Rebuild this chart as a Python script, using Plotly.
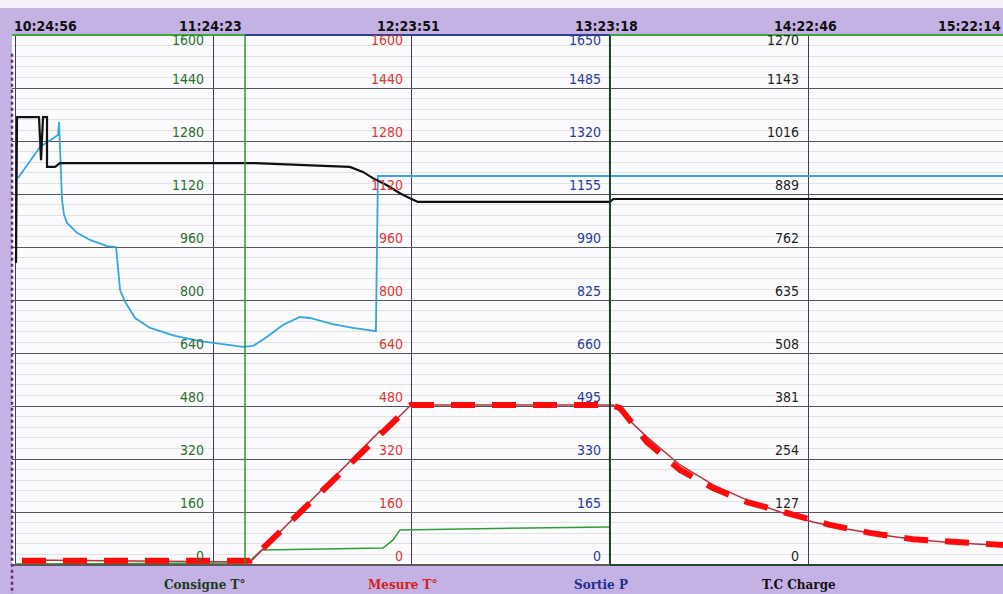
import plotly.graph_objects as go

# chart-recorder printout, 10:24:56 -> 15:22:14
# x values are minutes after the first time stamp

time_labels = ["10:24:56", "11:24:23", "12:23:51", "13:23:18", "14:22:46", "15:22:14"]

# scales printed inside the chart, one column per channel
consigne_ticks = [0, 160, 320, 480, 640, 800, 960, 1120, 1280, 1440, 1600]
mesure_ticks = [0, 160, 320, 480, 640, 800, 960, 1120, 1280, 1440, 1600]
sortie_ticks = [0, 165, 330, 495, 660, 825, 990, 1155, 1320, 1485, 1650]
charge_ticks = [0, 127, 254, 381, 508, 635, 762, 889, 1016, 1143, 1270]

channel_names = ["Consigne T°", "Mesure T°", "Sortie P", "T.C Charge"]

# Consigne T° (green)
consigne_t = [0.0, 69.6, 74.0, 110.3, 113.3, 115.4, 178.4]
consigne_v = [3, 6, 45, 51, 75, 106, 115]

# Mesure T° (red)
mesure_t = [2.1, 70.5, 108.2, 109.4, 110.3, 118.7, 178.4, 179.3, 189.5, 199.4, 209.3,
            219.5, 229.3, 239.2, 249.4, 259.3, 269.2, 279.4, 289.3, 296.2]
mesure_v = [15, 9, 392, 405, 400, 483, 483, 483, 386, 302, 242,
            196, 160, 130, 109, 91, 78, 69, 63, 60]

# red dashed profile drawn over the printout
profil_t = [2.1, 70.5, 118.7, 178.4, 181.4, 189.5, 199.4, 209.3, 219.5, 231.5,
            244.3, 256.3, 269.2, 292.3, 296.2]
profil_v = [13, 13, 483, 483, 474, 371, 287, 232, 190, 157,
            121, 97, 78, 63, 60]

# Sortie P (light blue)
sortie_t = [0.9, 7.5, 12.9, 13.2, 14.1, 14.7, 15.6, 18.6, 22.5, 27.6, 30.3, 30.9, 31.5,
            33.0, 36.0, 40.5, 48.0, 55.5, 68.4, 71.4, 75.5, 80.3, 85.4, 88.4, 95.3,
            101.3, 108.2, 108.8, 296.2]
sortie_v = [1205, 1301, 1339, 1379, 1136, 1090, 1065, 1034, 1012, 993, 990, 918, 856,
            819, 769, 738, 713, 697, 679, 682, 710, 747, 772, 769, 750,
            738, 728, 1211, 1211]

# T.C Charge (black)
charge_t = [0.3, 0.6, 7.2, 7.8, 8.4, 9.6, 9.6, 12.0, 13.5, 72.0, 94.4, 100.4, 104.3,
            107.3, 111.5, 115.4, 118.4, 120.8, 178.4, 179.3, 296.2]
charge_v = [724, 1073, 1073, 970, 1073, 1073, 954, 954, 963, 963, 956, 954, 942,
            927, 910, 891, 879, 870, 870, 877, 877]


def to_min(s):
    h, m, sec = [int(p) for p in s.split(':')]
    return h * 60 + m + sec / 60.0

t0 = to_min(time_labels[0])
grid_x = [to_min(s) - t0 for s in time_labels]
x_range = [-0.9, 296.2]

narrow = "Liberation Sans Narrow, DejaVu Sans Condensed, Arial Narrow, sans-serif"
green = '#2e6e2e'
red = '#e03535'
blue = '#2b3a9a'
black = '#1e1e1e'

fig = go.Figure()

fig.add_trace(go.Scatter(x=consigne_t, y=consigne_v, name=channel_names[0], mode='lines',
                         line=dict(color='#2f9e3a', width=1.5), yaxis='y'))
fig.add_trace(go.Scatter(x=sortie_t, y=sortie_v, name=channel_names[2], mode='lines',
                         line=dict(color='#35a6df', width=1.8), yaxis='y3'))
fig.add_trace(go.Scatter(x=charge_t, y=charge_v, name=channel_names[3], mode='lines',
                         line=dict(color='#111111', width=2.2), yaxis='y4'))
fig.add_trace(go.Scatter(x=mesure_t, y=mesure_v, name=channel_names[1], mode='lines',
                         line=dict(color='#b8343e', width=1.5), yaxis='y2'))
fig.add_trace(go.Scatter(x=profil_t, y=profil_v, name='profil', mode='lines',
                         line=dict(color='#ff0a0a', width=6, dash='24px,17px'), yaxis='y2'))

# event markers and coloured borders of the printout
ev1 = (245 - 15) / 3.3356
ev2 = grid_x[3]
fig.add_shape(type='line', x0=ev1, x1=ev1, y0=0, y1=1, yref='paper',
              line=dict(color='#2a9a2a', width=1.5))
fig.add_shape(type='line', x0=ev2, x1=ev2, y0=0, y1=1, yref='paper',
              line=dict(color='#1f3f22', width=2))
for xa, xb, col in [(x_range[0], ev1, '#3aa83a'), (ev1, ev2, '#33408f'), (ev2, x_range[1], '#3aa83a')]:
    fig.add_shape(type='line', x0=xa, x1=xb, y0=1, y1=1, yref='paper',
                  line=dict(color=col, width=2))
for xa, xb, col in [(x_range[0], ev2, '#5a5a5a'), (ev2, x_range[1], '#1f4a26')]:
    fig.add_shape(type='line', x0=xa, x1=xb, y0=0, y1=0, yref='paper',
                  line=dict(color=col, width=2))
fig.add_shape(type='line', xref='paper', yref='paper', x0=0, x1=0, y0=-0.06, y1=0.97,
              line=dict(color='#6a2a7a', width=2.5, dash='dot'))
fig.add_shape(type='rect', xref='paper', yref='paper', x0=-0.02, x1=1.01, y0=1.051, y1=1.08,
              fillcolor='#f4f2f8', line=dict(width=0), layer='below')

# time stamps along the top
for i, (lab, gx) in enumerate(zip(time_labels, grid_x)):
    anchor = 'center'
    shift = -3
    if i == 0:
        anchor, shift = 'left', -3
    elif i == len(time_labels) - 1:
        anchor, shift = 'right', 0
    fig.add_annotation(x=min(gx, x_range[1]), y=1, yref='paper', text=lab, showarrow=False,
                       xanchor=anchor, yanchor='bottom', xshift=shift, yshift=-1,
                       font=dict(family=narrow, size=14, color='#111111', weight='bold'))

# scale columns inside the chart
scales = [(consigne_ticks, 'y', green, grid_x[1]),
          (mesure_ticks, 'y2', red, grid_x[2]),
          (sortie_ticks, 'y3', blue, grid_x[3]),
          (charge_ticks, 'y4', black, grid_x[4])]
for ticks, yref, col, gx in scales:
    for k, v in enumerate(ticks):
        top = k == len(ticks) - 1
        fig.add_annotation(x=gx, y=v, yref=yref, text=str(v), showarrow=False,
                           xanchor='right', yanchor='top' if top else 'bottom',
                           xshift=-7, yshift=5 if top else -1,
                           font=dict(family=narrow, size=14, color=col))

# channel names in the bottom band
name_cols = ['#1c3a22', '#d42020', '#1e2f8e', '#111111']
for name, col, gx in zip(channel_names, name_cols, grid_x[1:5]):
    fig.add_annotation(x=gx, y=0, yref='paper', text=name, showarrow=False,
                       xanchor='center', yanchor='top', xshift=-9, yshift=-11,
                       font=dict(family='DejaVu Serif', size=12, color=col, weight='bold'))

fig.update_layout(
    width=1003, height=594,
    margin=dict(l=12, r=0, t=35, b=29, pad=0),
    paper_bgcolor='#c4b2e4',
    plot_bgcolor='#fbfbfd',
    showlegend=False,
    xaxis=dict(range=x_range, tickvals=grid_x, showticklabels=False, ticks='',
               showgrid=True, gridcolor='#3c3c64', gridwidth=1, zeroline=False, showline=False),
    yaxis=dict(range=[0, 1600], tick0=0, dtick=160, showticklabels=False, ticks='',
               showgrid=True, gridcolor='#555555', gridwidth=1, zeroline=False,
               minor=dict(dtick=32, showgrid=True, gridcolor='#e2e2e2', gridwidth=1)),
    yaxis2=dict(range=[0, 1600], overlaying='y', visible=False),
    yaxis3=dict(range=[0, 1650], overlaying='y', visible=False),
    yaxis4=dict(range=[0, 1270], overlaying='y', visible=False),
)

fig.write_html("out.html", config={'displayModeBar': False},
               post_script="document.body.style.margin='0px';")
